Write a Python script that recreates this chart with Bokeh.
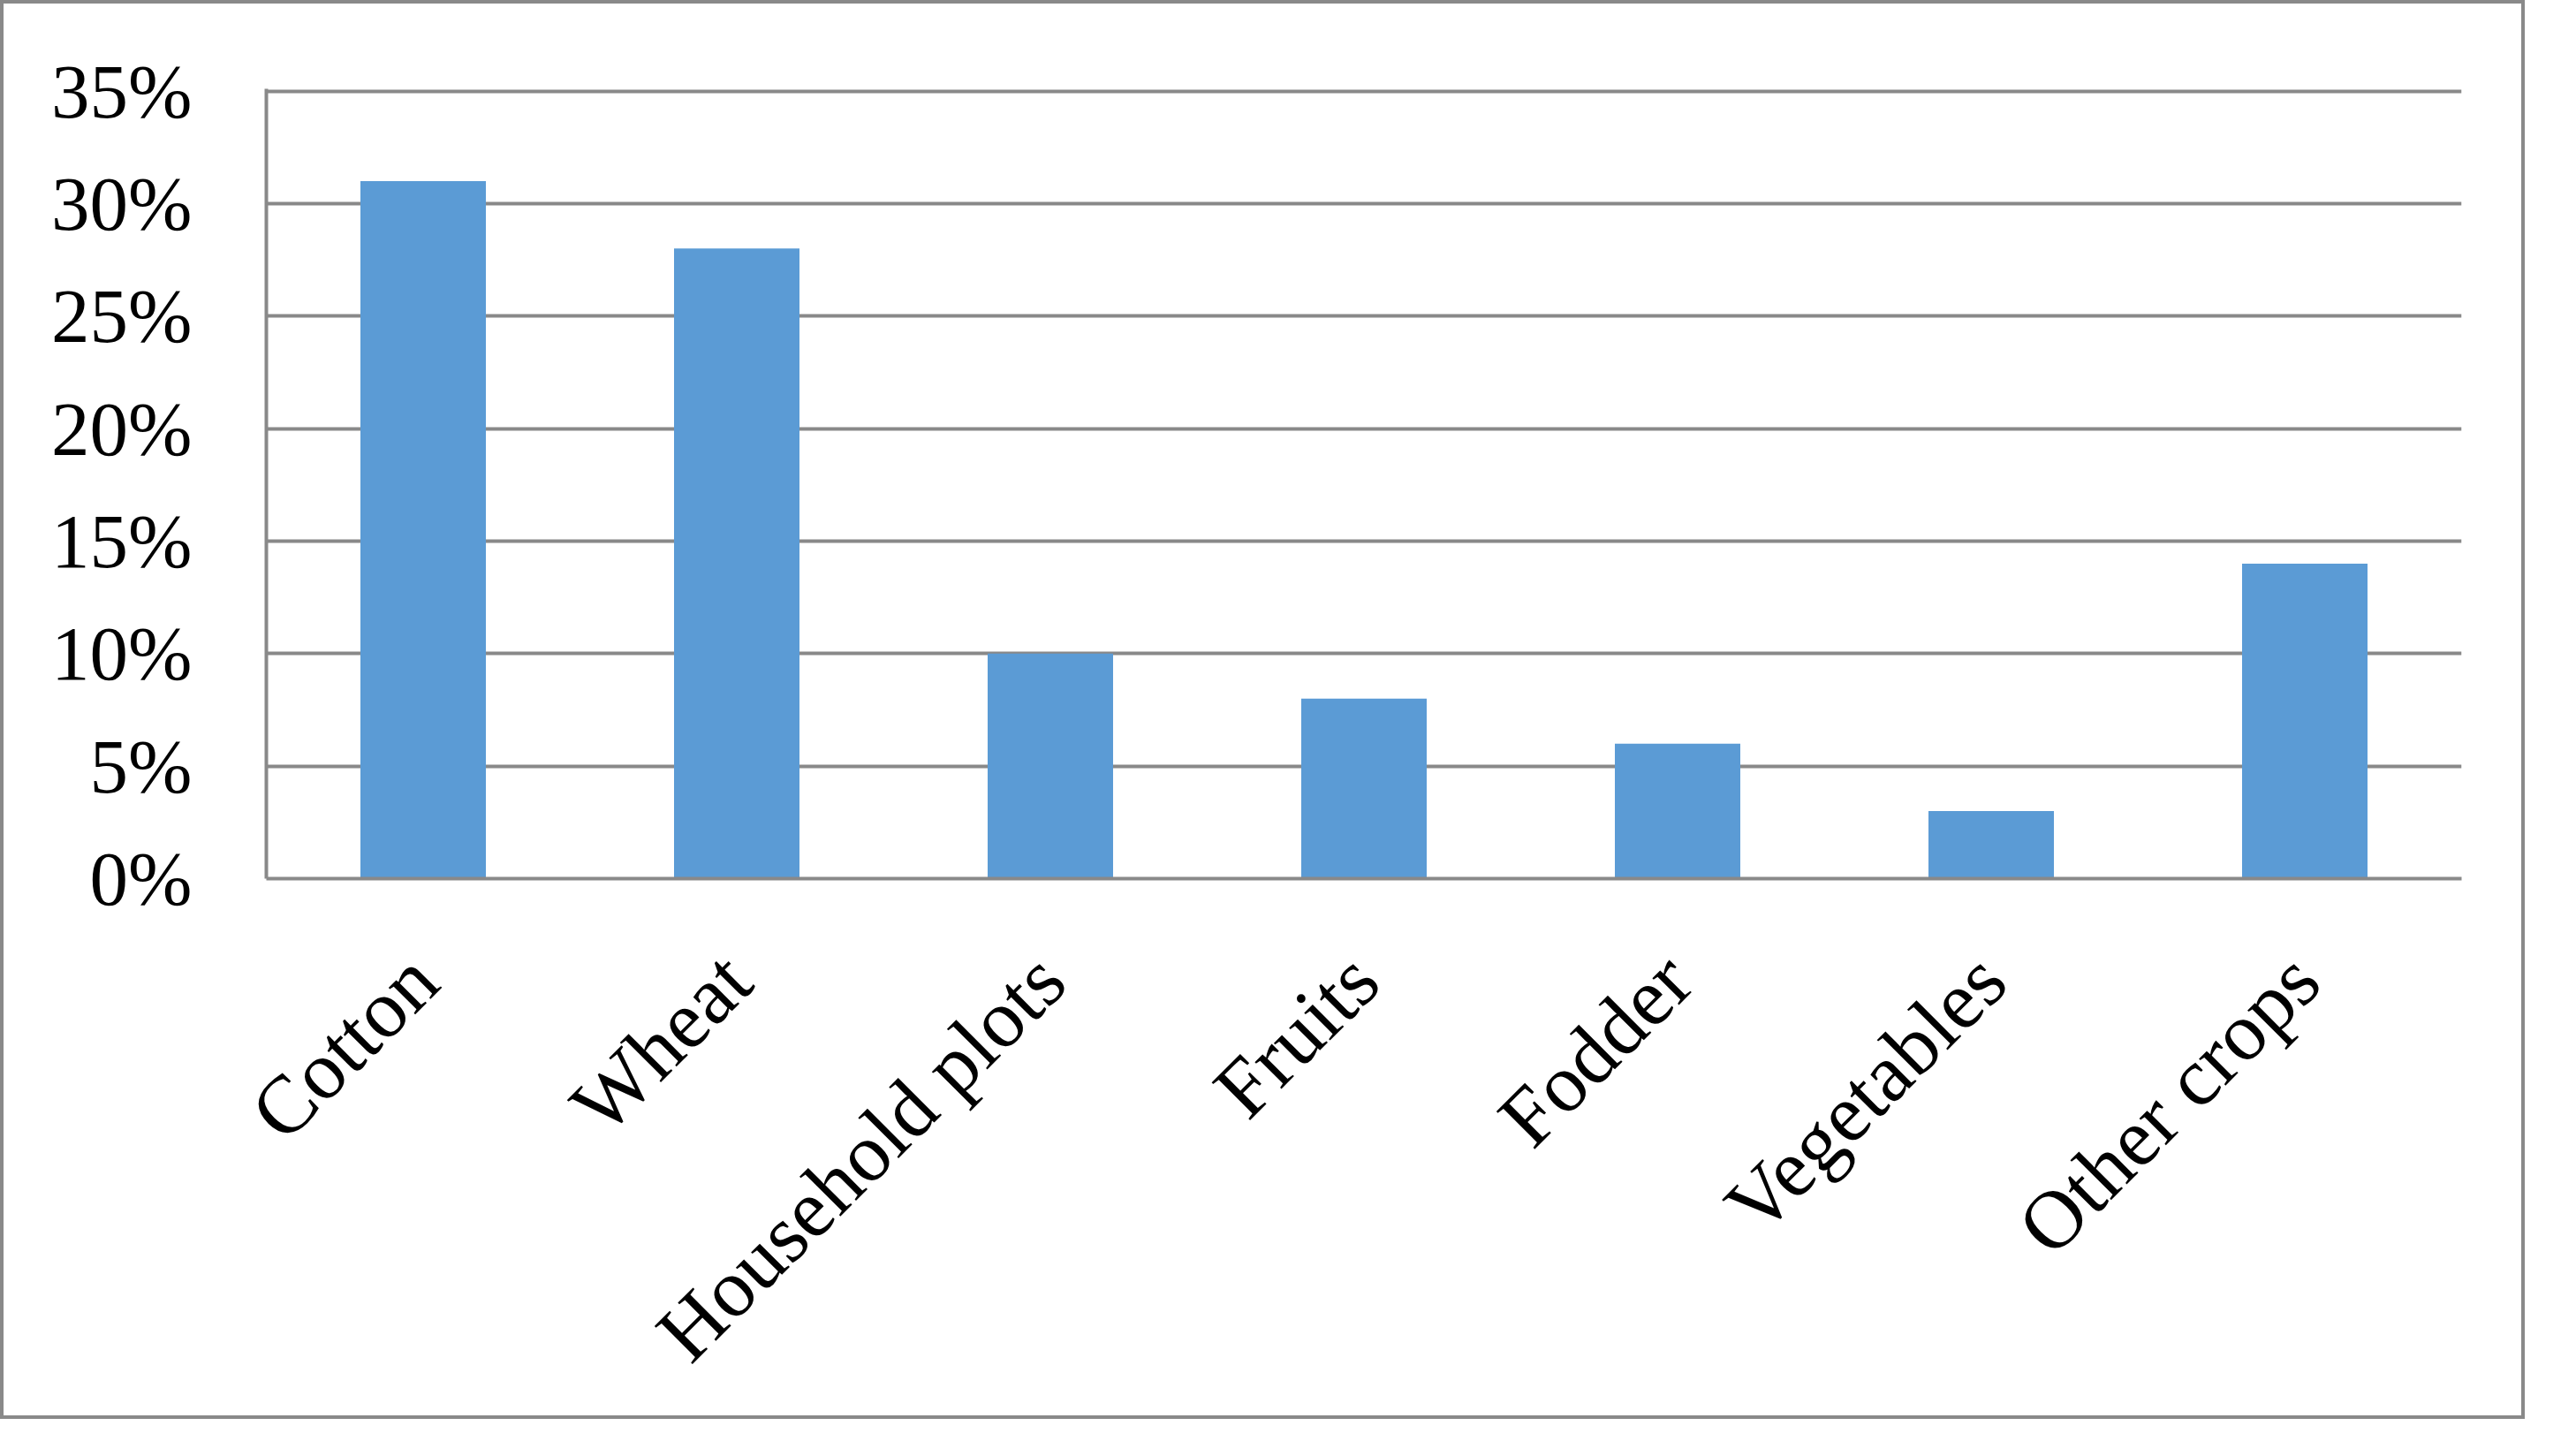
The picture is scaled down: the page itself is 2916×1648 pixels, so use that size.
import math
from bokeh.plotting import figure
from bokeh.models import FixedTicker, CustomJSTickFormatter
from bokeh.embed import file_html
from bokeh.resources import INLINE

categories = ["Cotton", "Wheat", "Household plots", "Fruits", "Fodder", "Vegetables", "Other crops"]
shares = [31, 28, 10, 8, 6, 3, 14]
y_ticks = [0, 5, 10, 15, 20, 25, 30, 35]

GRID = "#898989"
BAR = "#5B9BD5"
FONT = "Liberation Serif"

p = figure(
    x_range=categories, y_range=(0, 35.1),
    width=2858, height=1606,
    output_backend="svg", toolbar_location=None,
    min_border_left=297, min_border_right=76, min_border_top=96, min_border_bottom=616,
)
p.styles = {"border": "4px solid #898989"}

p.vbar(x=categories, top=shares, width=0.4, fill_color=BAR, line_color=None)

p.outline_line_color = None
p.background_fill_color = "white"
p.border_fill_color = "white"

p.xgrid.grid_line_color = None
p.ygrid.grid_line_color = GRID
p.ygrid.grid_line_width = 4
p.ygrid.ticker = FixedTicker(ticks=y_ticks)

p.yaxis.ticker = FixedTicker(ticks=y_ticks)
p.yaxis.formatter = CustomJSTickFormatter(code="return tick + '%';")
p.yaxis.axis_line_color = GRID
p.yaxis.axis_line_width = 4
p.yaxis.major_tick_line_color = None
p.yaxis.minor_tick_line_color = None
p.yaxis.major_tick_out = 0
p.yaxis.major_tick_in = 0
p.yaxis.major_label_standoff = 84
p.yaxis.major_label_text_font = FONT
p.yaxis.major_label_text_font_size = "87px"
p.yaxis.major_label_text_color = "black"

p.xaxis.axis_line_color = GRID
p.xaxis.axis_line_width = 4
p.xaxis.major_tick_line_color = None
p.xaxis.minor_tick_line_color = None
p.xaxis.major_tick_out = 0
p.xaxis.major_tick_in = 0
p.xaxis.major_label_orientation = math.pi / 4
p.xaxis.major_label_standoff = 100
p.xaxis.major_label_text_font = FONT
p.xaxis.major_label_text_font_size = "93px"
p.xaxis.major_label_text_color = "black"

open("out.html", "w").write(file_html(p, INLINE))
